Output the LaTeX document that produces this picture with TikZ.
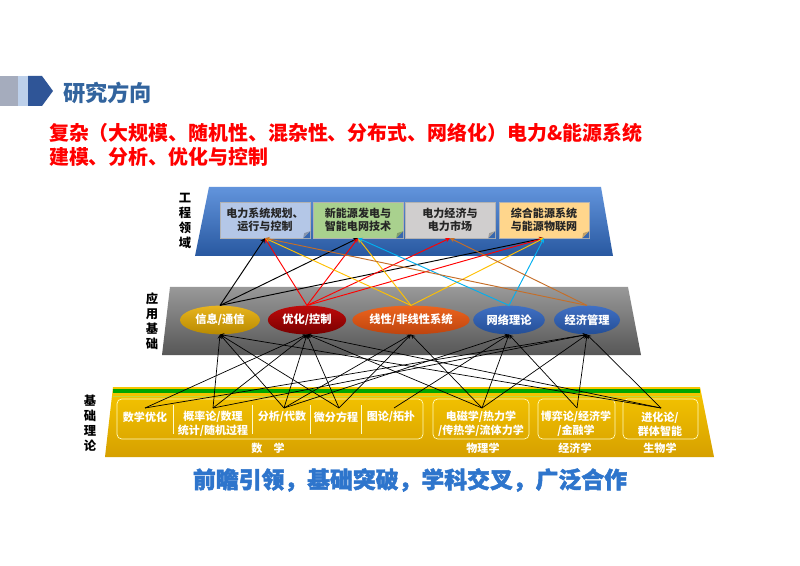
\documentclass[tikz,border=0pt]{standalone}
\usepackage{fontspec}
\setmainfont{Noto Sans CJK SC}
\newfontfamily\slogfont[BoldFeatures={FakeBold=2}]{Noto Sans CJK SC}
\usepackage{tikz}
\usetikzlibrary{calc,shapes.geometric}
\definecolor{titleblue}{RGB}{50,100,158}
\definecolor{iconblue}{RGB}{47,85,151}
\definecolor{iconlight}{RGB}{189,208,234}
\definecolor{icongray}{RGB}{165,172,189}
\definecolor{sloganblue}{RGB}{46,117,204}
\definecolor{linkyellow}{RGB}{255,192,0}
\definecolor{linkcyan}{RGB}{0,176,240}
\definecolor{linkbrown}{RGB}{197,110,40}
\definecolor{engtop}{RGB}{98,148,220}
\definecolor{engbottom}{RGB}{40,88,160}
\definecolor{basetop}{RGB}{246,198,0}
\definecolor{basebottom}{RGB}{214,160,0}
\definecolor{stripelight}{RGB}{190,220,60}
\definecolor{boxblue}{RGB}{180,199,231}
\definecolor{boxgreen}{RGB}{169,209,142}
\definecolor{boxgray}{RGB}{208,206,206}
\definecolor{boxorange}{RGB}{255,214,140}
\definecolor{goldtop}{RGB}{232,180,30}
\definecolor{goldbottom}{RGB}{184,138,0}
\definecolor{redtop}{RGB}{190,10,10}
\definecolor{redbottom}{RGB}{120,0,0}
\definecolor{orangetop}{RGB}{236,100,30}
\definecolor{orangebottom}{RGB}{190,68,14}
\definecolor{bluetop}{RGB}{64,112,196}
\definecolor{bluebottom}{RGB}{36,78,150}
\def\foldcorner(#1)[#2]{%
  \fill[engbottom!75!engtop] ($(#1.south east)+(-7,0)$) -- ($(#1.south east)+(0,-7)$) -- (#1.south east) -- cycle;
  \fill[#2!75!black] ($(#1.south east)+(-7,0)$) -- ($(#1.south east)+(0,-7)$) -- ($(#1.south east)+(-6,-5)$) -- cycle;}
\tikzset{
  engbox/.style={draw=white!70!black, line width=0.3pt, minimum width=2.7cm, minimum height=1.08cm,
    align=center, font=\fontsize{9.4}{11}\selectfont\bfseries, text=black!85},
  appball/.style={ellipse, minimum height=0.86cm, inner sep=0pt, text=white,
    font=\fontsize{9.6}{11}\selectfont\bfseries},
  basetext/.style={align=center, text=white, font=\fontsize{9.4}{12}\selectfont\bfseries},
  layerlabel/.style={align=center, font=\fontsize{10.5}{12.8}\selectfont\bfseries},
  uplink/.style={line width=0.8pt, -stealth, draw=#1},
  downlink/.style={line width=0.6pt, -stealth, draw=black}
}
\begin{document}
\begin{tikzpicture}[x=0.03cm, y=-0.03cm]
			%%%%% START %%%%%
			\useasboundingbox[fill=white] (0, 0) rectangle (800, 566);
			
			% header
			\fill[icongray] (0, 76) rectangle (18, 106);
			\fill[iconlight] (18, 76) rectangle (28, 106);
			\fill[iconblue] (28, 76) -- (42, 76) -- (53, 91) -- (42, 106) -- (28, 106) -- cycle;
			\node[anchor=west, text=titleblue, font=\fontsize{19}{21}\selectfont\bfseries] (title) at (59, 93) {研究方向};
			
			\node[anchor=west, text=red, align=left, font=\fontsize{17}{20.5}\selectfont\bfseries] (topic) at (45, 145)
				{复杂（大规模、随机性、混杂性、分布式、网络化）电力\&能源系统\\建模、分析、优化与控制};
			
			% engineering layer
			\shade[top color=engtop, bottom color=engbottom]
				(209, 187) -- (601, 187) -- (613, 256) -- (195, 256) -- cycle;
			\node[layerlabel] (lab1) at (185, 221) {工\\程\\领\\域};
			
			\node[engbox, fill=boxblue] (eng1) at (265, 220) {电力系统规划、\\运行与控制};
			\node[engbox, fill=boxgreen] (eng2) at (358, 220) {新能源发电与\\智能电网技术};
			\node[engbox, fill=boxgray] (eng3) at (450, 220) {电力经济与\\电力市场};
			\node[engbox, fill=boxorange] (eng4) at (544, 220) {综合能源系统\\与能源物联网};
			\foldcorner(eng1)[boxblue]
			\foldcorner(eng2)[boxgreen]
			\foldcorner(eng3)[boxgray]
			\foldcorner(eng4)[boxorange]
			
			% application layer
			\shade[top color=black!40, bottom color=black!66]
				(170, 287) -- (628, 287) -- (641, 355) -- (162, 355) -- cycle;
			\node[layerlabel] (lab2) at (152, 321) {应\\用\\基\\础};
			
			\node[appball, minimum width=2.4cm, top color=goldtop, bottom color=goldbottom] (xinxi) at (220, 320) {信息/通信};
			\node[appball, minimum width=2.35cm, top color=redtop, bottom color=redbottom] (youhua) at (307, 320) {优化/控制};
			\node[appball, minimum width=3.35cm, top color=orangetop, bottom color=orangebottom] (xianxing) at (411, 320) {线性/非线性系统};
			\node[appball, minimum width=2.15cm, top color=bluetop, bottom color=bluebottom] (wangluo) at (509, 320) {网络理论};
			\node[appball, minimum width=1.98cm, top color=bluetop, bottom color=bluebottom] (jingji) at (587, 320) {经济管理};
			
			% basic theory layer
			\shade[top color=basetop, bottom color=basebottom]
				(113, 387) -- (700, 387) -- (714, 457) -- (105, 457) -- cycle;
			\fill[green!65!black] (113, 389) rectangle (700, 393);
			\fill[stripelight] (113, 396) rectangle (700, 397);
			\node[layerlabel] (lab3) at (90, 423) {基\\础\\理\\论};
			
			\draw[white!75!yellow, line width=0.6pt, rounded corners=4] (117, 399) rectangle (423, 439);
			\draw[white!75!yellow, line width=0.6pt, rounded corners=4] (433, 399) rectangle (529, 439);
			\draw[white!75!yellow, line width=0.6pt, rounded corners=4] (538, 399) rectangle (615, 439);
			\draw[white!75!yellow, line width=0.6pt, rounded corners=4] (623, 399) rectangle (698, 439);
			\draw[white!80!yellow, line width=0.5pt] (173, 405) -- (173, 434);
			\draw[white!80!yellow, line width=0.5pt] (252, 405) -- (252, 434);
			\draw[white!80!yellow, line width=0.5pt] (310, 405) -- (310, 434);
			\draw[white!80!yellow, line width=0.5pt] (361, 405) -- (361, 434);
			
			\node[basetext] (shuxueyh) at (145, 417) {数学优化};
			\node[basetext] (gailv) at (213, 424) {概率论/数理\\统计/随机过程};
			\node[basetext] (fenxi) at (282, 417) {分析/代数};
			\node[basetext] (weifen) at (336, 417) {微分方程};
			\node[basetext] (tulun) at (391, 417) {图论/拓扑};
			\node[basetext] (dianci) at (481, 424) {电磁学/热力学\\/传热学/流体力学};
			\node[basetext] (boyi) at (576, 424) {博弈论/经济学\\/金融学};
			\node[basetext] (jinhua) at (660, 424) {进化论/\\群体智能};
			\node[basetext] (grpmath) at (268, 448) {数\hspace{1em}学};
			\node[basetext] (grpphys) at (483, 448) {物理学};
			\node[basetext] (grpecon) at (575, 448) {经济学};
			\node[basetext] (grpbio) at (660, 448) {生物学};
			
			\coordinate (s1) at (145, 408);
			\coordinate (s2) at (213, 408);
			\coordinate (s3) at (284, 408);
			\coordinate (s4) at (339, 408);
			\coordinate (s5) at (394, 408);
			\coordinate (s6) at (482, 408);
			\coordinate (s7) at (577, 408);
			\coordinate (s8) at (661, 408);
			
			% upward links into engineering
			\draw[uplink=black] (xinxi.north) -- (eng1.south);
			\draw[uplink=black] (xinxi.north) -- (eng2.south);
			\draw[uplink=black] (xinxi.north) -- (eng4.south);
			\draw[uplink=red] (youhua.north) -- (eng1.south);
			\draw[uplink=red] (youhua.north) -- (eng2.south);
			\draw[uplink=red] (youhua.north) -- (eng3.south);
			\draw[uplink=red] (youhua.north) -- (eng4.south);
			\draw[uplink=linkyellow] (xianxing.north) -- (eng1.south);
			\draw[uplink=linkyellow] (xianxing.north) -- (eng2.south);
			\draw[uplink=linkyellow] (xianxing.north) -- (eng4.south);
			\draw[uplink=linkcyan] (wangluo.north) -- (eng2.south);
			\draw[uplink=linkcyan] (wangluo.north) -- (eng4.south);
			\draw[uplink=linkbrown] (jingji.north) -- (eng1.south);
			\draw[uplink=linkbrown] (jingji.north) -- (eng3.south);
			
			% upward links into application
			\draw[downlink] (s2) -- (xinxi.south);
			\draw[downlink] (s3) -- (xinxi.south);
			\draw[downlink] (s4) -- (xinxi.south);
			\draw[downlink] (s8) -- (xinxi.south);
			\draw[downlink] (s1) -- (youhua.south);
			\draw[downlink] (s2) -- (youhua.south);
			\draw[downlink] (s3) -- (youhua.south);
			\draw[downlink] (s4) -- (youhua.south);
			\draw[downlink] (s6) -- (youhua.south);
			\draw[downlink] (s8) -- (youhua.south);
			\draw[downlink] (s3) -- (xianxing.south);
			\draw[downlink] (s4) -- (xianxing.south);
			\draw[downlink] (s6) -- (xianxing.south);
			\draw[downlink] (s3) -- (wangluo.south);
			\draw[downlink] (s5) -- (wangluo.south);
			\draw[downlink] (s6) -- (wangluo.south);
			\draw[downlink] (s7) -- (wangluo.south);
			\draw[downlink] (s1) -- (jingji.south);
			\draw[downlink] (s2) -- (jingji.south);
			\draw[downlink] (s6) -- (jingji.south);
			\draw[downlink] (s7) -- (jingji.south);
			\draw[downlink] (s8) -- (jingji.south);
			
			\node[text=sloganblue, font=\fontsize{19.5}{22}\slogfont\bfseries] (slogan) at (410, 480) {前瞻引领，基础突破，学科交叉，广泛合作};
			
			%%%%% END %%%%%
\end{tikzpicture}
\end{document}
